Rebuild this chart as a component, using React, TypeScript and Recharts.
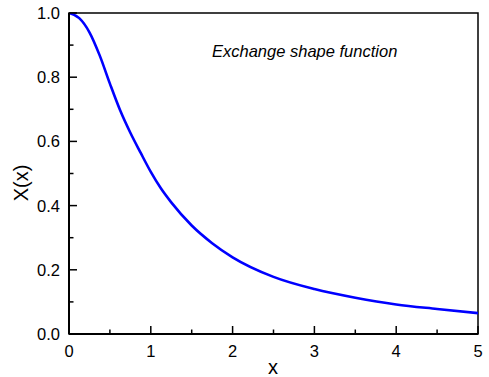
import React from 'react';
import { LineChart, Line, XAxis, YAxis, ReferenceArea, Customized } from 'recharts';

const xValues = [0, 0.125, 0.25, 0.375, 0.5, 0.625, 0.75, 0.875, 1, 1.125, 1.25, 1.5, 1.75, 2, 2.5, 3, 3.5, 4, 4.5, 5];
const yValues = [1.0, 0.984, 0.94, 0.868, 0.78, 0.697, 0.627, 0.565, 0.505, 0.453, 0.41, 0.338, 0.283, 0.239, 0.178, 0.14, 0.113, 0.092, 0.078, 0.065];
const xTicks = [0, 0.5, 1, 1.5, 2, 2.5, 3, 3.5, 4, 4.5, 5];
const yTicks = [0, 0.1, 0.2, 0.3, 0.4, 0.5, 0.6, 0.7, 0.8, 0.9, 1.0];
const xLabel = 'x';
const yLabel = 'X(x)';
const annotation = 'Exchange shape function';

const data = xValues.map((x, i) => ({ x, y: yValues[i] }));

const FONT = 'Liberation Sans, Arial, sans-serif';

const XTick = (props: any) => {
  const { x, y, payload } = props;
  const v = payload.value;
  const major = Math.abs(v - Math.round(v)) < 1e-9;
  return (
    <g>
      <line x1={x} x2={x} y1={y} y2={y - (major ? 8 : 4.5)} stroke="#000" strokeWidth={1.5} />
      {major && (
        <text x={x} y={y + 23} textAnchor="middle" fontSize={16.5} fontFamily={FONT} fill="#000">
          {String(v)}
        </text>
      )}
    </g>
  );
};

const YTick = (props: any) => {
  const { x, y, payload } = props;
  const v = payload.value;
  const major = Math.abs(v * 5 - Math.round(v * 5)) < 1e-9;
  return (
    <g>
      <line x1={x} x2={x + (major ? 8 : 4.5)} y1={y} y2={y} stroke="#000" strokeWidth={1.5} />
      {major && (
        <text x={x - 9} y={y + 6} textAnchor="end" fontSize={16.5} fontFamily={FONT} fill="#000">
          {v.toFixed(1)}
        </text>
      )}
    </g>
  );
};

const Texts = () => (
  <g>
    <text x={273} y={374} textAnchor="middle" fontSize={20} fontFamily={FONT} fill="#000">{xLabel}</text>
    <text x={28} y={183} textAnchor="middle" fontSize={20} fontFamily={FONT} fill="#000" transform="rotate(-90 28 183)">{yLabel}</text>
    <text x={212} y={57} fontSize={16.5} fontStyle="italic" fontFamily={FONT} fill="#000">{annotation}</text>
  </g>
);

export default function App() {
  return (
    <div style={{ position: 'absolute', left: 0, top: 0, background: '#fff' }}>
      <LineChart width={489} height={377} data={data} margin={{ top: 13, right: 11, bottom: 13, left: 0 }}>
        <XAxis
          dataKey="x"
          type="number"
          domain={[0, 5]}
          ticks={xTicks}
          interval={0}
          height={30}
          tickSize={0}
          tickMargin={0}
          tickLine={false}
          axisLine={{ stroke: '#000', strokeWidth: 2 }}
          tick={<XTick />}
          allowDataOverflow
        />
        <YAxis
          type="number"
          domain={[0, 1]}
          ticks={yTicks}
          interval={0}
          width={69}
          tickSize={0}
          tickMargin={0}
          tickLine={false}
          axisLine={{ stroke: '#000', strokeWidth: 2 }}
          tick={<YTick />}
          allowDataOverflow
        />
        <ReferenceArea x1={0} x2={5} y1={0} y2={1} fill="none" stroke="#000" strokeWidth={1.5} fillOpacity={0} ifOverflow="visible" />
        <Line type="monotone" dataKey="y" stroke="#0000ff" strokeWidth={2.6} dot={false} isAnimationActive={false} />
        <Customized component={Texts} />
      </LineChart>
    </div>
  );
}
